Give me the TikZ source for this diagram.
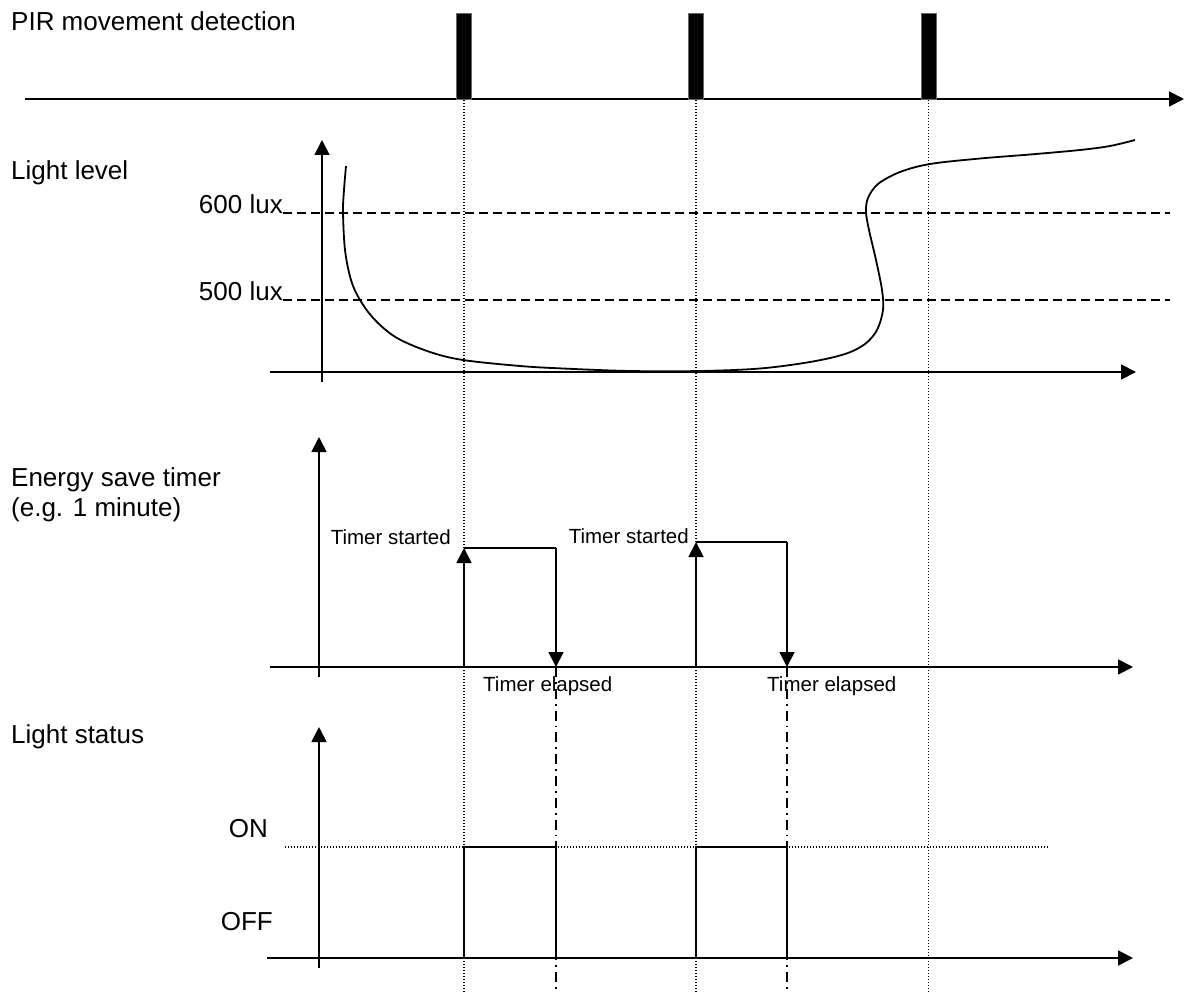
\documentclass[tikz,border=0pt]{standalone}
\usepackage{fontspec}
\setmainfont{Liberation Sans}
\usetikzlibrary{arrows.meta}
\tikzset{
  ax/.style={line width=1.8pt, -{Triangle[length=15pt,width=15pt]}},
  sline/.style={line width=1.8pt},
  guide/.style={line width=1.3pt, dash pattern=on 1.3pt off 1.7pt},
  thresh/.style={line width=1.6pt, dash pattern=on 9pt off 5pt},
  dashdot/.style={line width=1.4pt, dash pattern=on 10pt off 5pt on 1.8pt off 5pt},
  big/.style={font=\fontsize{26}{30}\selectfont, inner sep=0pt},
  small/.style={font=\fontsize{20.5}{24}\selectfont, inner sep=0pt},
  bar/.style={fill=black, draw=black!60, line width=0.5pt},
}
\begin{document}
\begin{tikzpicture}[x=1pt, y=-1pt]
\useasboundingbox (0,0) rectangle (1188,995);

% ---- vertical guide lines (PIR events) ----
\coordinate (g1t) at (464,100); \coordinate (g1b) at (464,993);
\coordinate (g2t) at (696,100); \coordinate (g2b) at (696,993);
\coordinate (g3t) at (928.5,100); \coordinate (g3b) at (928.5,993);
\draw[guide] (g1t) -- (g1b);
\draw[guide] (g2t) -- (g2b);
\draw[guide] (g3t) -- (g3b);

% ---- timer elapsed guide lines ----
\coordinate (e1t) at (556,667); \coordinate (e1b) at (556,993);
\coordinate (e2t) at (787,667); \coordinate (e2b) at (787,993);
\draw[dashdot] (e1t) -- (e1b);
\draw[dashdot] (e2t) -- (e2b);

% ---- PIR movement detection ----
\node[big, anchor=west] (pirlbl) at (11,21) {PIR movement detection};
\coordinate (pirA) at (25,99); \coordinate (pirB) at (1184,99);
\draw[ax] (pirA) -- (pirB);
\draw[bar] (456,13) rectangle (471,99);
\draw[bar] (688,13) rectangle (703,99);
\draw[bar] (921,13) rectangle (936,99);

% ---- Light level ----
\node[big, anchor=west] (lllbl) at (11,173) {Light level};
\coordinate (llv0) at (322,382); \coordinate (llv1) at (322,140);
\coordinate (llh0) at (270,372); \coordinate (llh1) at (1136,372);
\draw[ax] (llv0) -- (llv1);
\draw[ax] (llh0) -- (llh1);
\node[big, anchor=base east] (l600) at (283,213) {600 lux};
\node[big, anchor=base east] (l500) at (283,300) {500 lux};
\coordinate (t600) at (1170,213); \coordinate (t500) at (1170,300);
\draw[thresh] (l600.base east) -- (t600);
\draw[thresh] (l500.base east) -- (t500);
\draw[line width=1.8pt] plot[smooth, tension=0.55] coordinates {
  (346,166) (344,190) (343,212) (345,250) (351,280) (360,300) (375,320)
  (397,338) (430,352) (463,360) (520,366) (563,368.5) (630,371) (700,371)
  (760,368.5) (810,362) (845,354) (865,344) (877,330) (883,310) (882,290)
  (876,260) (869,230) (866,212) (868,198) (878,184) (900,172) (930,164)
  (980,158.5) (1030,154.5) (1080,150) (1110,146) (1135,140)};

% ---- Energy save timer ----
\node[big, anchor=west, align=left] (etlbl) at (11,495) {Energy save timer\\(e.g. 1 minute)};
\coordinate (etv0) at (319,677); \coordinate (etv1) at (319,437);
\coordinate (eth0) at (270,667); \coordinate (eth1) at (1133,667);
\draw[ax] (etv0) -- (etv1);
\draw[ax] (eth0) -- (eth1);

\coordinate (s1b) at (464,667); \coordinate (s1t) at (464,548);
\coordinate (s1r) at (556,548);
\draw[ax] (s1b) -- (s1t);
\draw[sline] (s1t) -- (s1r);
\draw[ax] (s1r) -- (e1t);
\node[small, anchor=east] (ts1) at (451,537) {Timer started};
\node[small, anchor=west] (te1) at (483,686) {Timer elapsed};

\coordinate (s2b) at (696,667); \coordinate (s2t) at (696,542);
\coordinate (s2r) at (787,542);
\draw[ax] (s2b) -- (s2t);
\draw[sline] (s2t) -- (s2r);
\draw[ax] (s2r) -- (e2t);
\node[small, anchor=east] (ts2) at (689,536) {Timer started};
\node[small, anchor=west] (te2) at (767,686) {Timer elapsed};

% ---- Light status ----
\node[big, anchor=west] (lslbl) at (11,737) {Light status};
\coordinate (lsv0) at (319,968); \coordinate (lsv1) at (319,727);
\coordinate (lsh0) at (267,958); \coordinate (lsh1) at (1133,958);
\draw[ax] (lsv0) -- (lsv1);
\draw[ax] (lsh0) -- (lsh1);
\node[big, anchor=east] (onlbl) at (268,829) {ON};
\node[big, anchor=east] (offlbl) at (273,922) {OFF};
\coordinate (on0) at (285,847); \coordinate (on1) at (1048,847);
\draw[guide] (on0) -- (on1);
\draw[sline] (464,958) -- (464,847) -- (556,847) -- (556,958);
\draw[sline] (696,958) -- (696,847) -- (787,847) -- (787,958);
\end{tikzpicture}
\end{document}
